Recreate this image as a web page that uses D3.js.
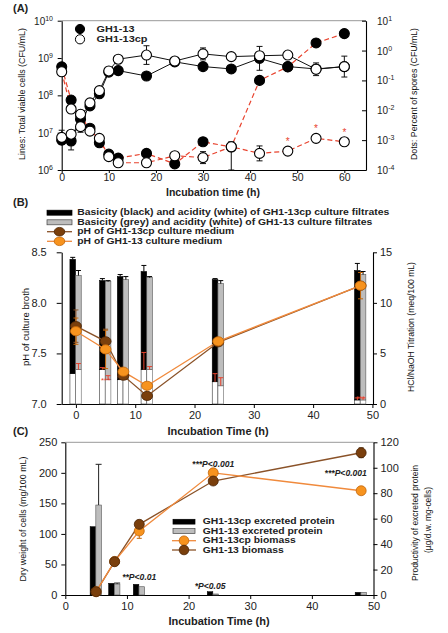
<!DOCTYPE html>
<html><head><meta charset="utf-8">
<script src="https://cdnjs.cloudflare.com/ajax/libs/d3/7.8.5/d3.min.js"></script>
<style>body{margin:0;background:#fff}svg{font-family:"Liberation Sans",Arial,sans-serif}</style>
</head><body><svg id="c" width="448" height="633"></svg>
<script>
// ---------- Panel A data ----------
const timesA = [0,2,4,6,8,10,12,18,24,30,36,42,48,54,60];
const viableGH113   = [6.3e6,6.0e6,3.0e7,5.2e7,1.1e8,4.2e8,4.6e8,3.3e8,7.9e8,5.9e8,5.1e8,9.8e8,5.9e8,5.1e8,5.9e8];
const viableGH113cp = [7.5e6,9.1e6,1.45e7,6.3e7,1.34e8,4.5e8,9.3e8,1.2e9,8.3e8,1.29e9,1.09e9,1.15e9,1.2e9,5.0e8,5.9e8];
const viableErr     = [0,0.24,0,0,0,0,0,0,0,0,0,0.32,0,0,0];        // decades
const viableErrCp   = [0.19,0,0.15,0,0.06,0.1,0,0.25,0,0.16,0.08,0.1,0.09,0.17,0.28];
const sporesGH113   = [0.285,0.022,0.005,0.0025,8.2e-4,3.4e-4,2.5e-4,3.6e-4,1.6e-4,8.8e-4,5.9e-4,0.10,0.285,1.8,3.7];
const sporesGH113cp = [0.195,0.011,0.0074,0.002,1.15e-3,2.8e-4,1.75e-4,1.75e-4,3.0e-4,2.6e-4,6.0e-4,3.6e-4,4.3e-4,1.15e-3,8.8e-4];
const sporesErrCp   = [0,0,0,0,0,0,0,0,0,0.2,0.17,0.25,0,0,0];
const sporeStars    = [48,54,60];
const ticksA_L = [6,7,8,9,10];
const ticksA_R = [-4,-3,-2,-1,0,1];
const ticksA_X = [0,10,20,30,40,50,60];

// ---------- Panel B data ----------
const timesB = [0,5,8,12,24,48];
const acidGH113cp  = [3.0,3.4,2.4,3.4,2.2,0.4];
const basicGH113cp = [11.3,8.8,10.2,9.7,10.1,12.8];
const acidGH113    = [3.4,2.4,2.4,3.4,1.8,0.4];
const basicGH113   = [9.3,9.7,9.9,9.1,10.1,12.4];
const basicErrCp   = [0.2,0.2,0.2,0.6,0.1,0.7];
const basicErr     = [0.5,0.1,0.3,0.1,0.3,0.3];
const acidErrCp    = [0,0.2,0.3,1.7,0.8,0.2];
const acidErr      = [0.6,0.4,0.3,0.3,0.8,0.2];
const phGH113cp = [7.77,7.62,7.28,7.08,7.61,8.17];
const phGH113   = [7.72,7.54,7.32,7.18,7.62,8.17];
const phErrCp   = [0.16,0.12,0.03,0.03,0.02,0.03];
const phErr     = [0.13,0.19,0.03,0.03,0.02,0.13];
const ticksB_L = [7.0,7.5,8.0,8.5];
const ticksB_R = [0,5,10,15];
const ticksB_X = [0,10,20,30,40,50];

// ---------- Panel C data ----------
const timesC = [5,8,12,24,48];
const proteinGH113cp = [53.7,9.2,8.4,2.6,2.1];
const proteinGH113   = [70.7,8.6,6.5,0.8,2.1];
const proteinErr     = [32,0.8,0,0,0];
const biomassGH113cp = [5.4,55,104.8,200,170.7];
const biomassGH113   = [5.4,54.5,115.7,186.6,232.9];
const biomassErrCp   = [0,4,12,3,3];
const biomassErr     = [0,3,3,3,8];
const ticksC_L = [0,50,100,150,200,250];
const ticksC_R = [0,20,40,60,80,100,120];
const ticksC_X = [0,10,20,30,40,50];
const pLabels = [
  {t:24, v:214, text:"***P<0.001"},
  {t:45.5, v:200, text:"***P<0.001"},
  {t:12, v:30, text:"**P<0.01"},
  {t:23.5, v:15, text:"*P<0.05"}
];

// ---------- helpers ----------
const svg = d3.select("#c");
const ORANGE="#f7931e", ORANGE_S="#c0650a", ORANGE_L="#f08a3c";
const BROWN="#7a3f0c", BROWN_S="#4a2506", BROWN_L="#8a5228";
const RED="#e8432e";

function styleAxis(g, fs){
  g.selectAll("path.domain").attr("stroke","#000").attr("stroke-width",1.1);
  g.selectAll(".tick line").attr("stroke","#000").attr("stroke-width",1);
  g.selectAll(".tick text").attr("font-size",fs||10.5).attr("fill","#222")
    .attr("font-family",'"Liberation Sans",Arial,sans-serif');
}
function vtitle(x,y,text,fs,len,bold){
  const t = svg.append("text").attr("transform",`translate(${x},${y}) rotate(-90)`)
    .attr("text-anchor","middle").attr("dominant-baseline","central")
    .attr("font-size",fs).attr("fill","#111").text(text);
  if(bold) t.attr("font-weight","bold");
  if(len) t.attr("textLength",len).attr("lengthAdjust","spacingAndGlyphs");
}
function htitle(x,y,text,fs){
  svg.append("text").attr("x",x).attr("y",y).attr("text-anchor","middle")
    .attr("dominant-baseline","central").attr("font-size",fs).attr("font-weight","bold")
    .attr("fill","#222").text(text);
}
function legText(g,x,y,text,len,fs){
  g.append("text").attr("x",x).attr("y",y).attr("dominant-baseline","central").attr("font-size",fs||8.2)
    .attr("font-weight","bold").attr("fill","#222").attr("textLength",len).attr("lengthAdjust","spacingAndGlyphs").text(text);
}
function errbar(g,x,y1,y2,color,cap,bothCaps){
  g.append("line").attr("x1",x).attr("x2",x).attr("y1",y1).attr("y2",y2).attr("stroke",color).attr("stroke-width",1);
  g.append("line").attr("x1",x-cap).attr("x2",x+cap).attr("y1",y2).attr("y2",y2).attr("stroke",color).attr("stroke-width",1);
  if(bothCaps) g.append("line").attr("x1",x-cap).attr("x2",x+cap).attr("y1",y1).attr("y2",y1).attr("stroke",color).attr("stroke-width",1);
}

// ================= Panel A =================
const xA = d3.scaleLinear().domain([0,64.6]).range([61.7,366]);
const yAL = d3.scaleLog().domain([1e6,1e10]).range([170,20.7]);
const yAR = d3.scaleLog().domain([1e-4,10]).range([170,20.7]);
const gA = svg.append("g");

gA.append("line").attr("x1",61.7).attr("x2",366).attr("y1",20.7).attr("y2",20.7).attr("stroke","#999").attr("stroke-width",1);
const axAx = gA.append("g").attr("transform","translate(0,170)")
  .call(d3.axisBottom(xA).tickValues(ticksA_X).tickSize(3).tickSizeOuter(0).tickPadding(1));
styleAxis(axAx,10.5);
const axAl = gA.append("g").attr("transform","translate(61.7,0)")
  .call(d3.axisLeft(yAL).tickValues(ticksA_L.map(e=>Math.pow(10,e))).tickFormat("").tickSize(4).tickSizeOuter(0));
styleAxis(axAl);
const axAr = gA.append("g").attr("transform","translate(366,0)")
  .call(d3.axisRight(yAR).tickValues(ticksA_R.map(e=>Math.pow(10,e))).tickFormat("").tickSize(-4).tickSizeOuter(0));
styleAxis(axAr);
ticksA_L.forEach(e=>{
  const t = gA.append("text").attr("x",53).attr("y",yAL(Math.pow(10,e))+4).attr("text-anchor","end")
    .attr("font-size",10).attr("fill","#222");
  t.append("tspan").text("10");
  t.append("tspan").attr("dy",-4).attr("font-size",7).text(e);
});
ticksA_R.forEach(e=>{
  const t = gA.append("text").attr("x",377).attr("y",yAR(Math.pow(10,e))+4).attr("text-anchor","start")
    .attr("font-size",10).attr("fill","#222");
  t.append("tspan").text("10");
  t.append("tspan").attr("dy",-4).attr("font-size",7).text(e);
});

const lineSp = (arr)=>d3.line().x((d,i)=>xA(timesA[i])).y(d=>yAR(d))(arr);
const lineVi = (arr)=>d3.line().x((d,i)=>xA(timesA[i])).y(d=>yAL(d))(arr);
gA.append("path").attr("d",lineSp(sporesGH113)).attr("fill","none").attr("stroke",RED).attr("stroke-width",1.2).attr("stroke-dasharray","5,3");
gA.append("path").attr("d",lineSp(sporesGH113cp)).attr("fill","none").attr("stroke",RED).attr("stroke-width",1.2).attr("stroke-dasharray","5,3");
gA.append("path").attr("d",lineVi(viableGH113)).attr("fill","none").attr("stroke","#111").attr("stroke-width",1);
gA.append("path").attr("d",lineVi(viableGH113cp)).attr("fill","none").attr("stroke","#111").attr("stroke-width",1);

timesA.forEach((t,i)=>{
  const x=xA(t);
  if(viableErrCp[i]>0){ const v=viableGH113cp[i], f=Math.pow(10,viableErrCp[i]);
    errbar(gA,x,yAL(v/f),yAL(v*f),"#111",3,true); }
  if(viableErr[i]>0){ const v=viableGH113[i], f=Math.pow(10,viableErr[i]);
    errbar(gA,x,yAL(v/f),yAL(v*f),"#111",3,true); }
  if(sporesErrCp[i]>0){ const v=sporesGH113cp[i], f=Math.pow(10,sporesErrCp[i]);
    errbar(gA,x,t===36?170:yAR(v/f),yAR(v*f),"#111",3,true); }
});

function dots(g,arr,sc,filled){
  g.selectAll(null).data(arr).enter().append("circle")
    .attr("cx",(d,i)=>xA(timesA[i])).attr("cy",d=>sc(d)).attr("r",5)
    .attr("fill",filled?"#000":"#fff").attr("stroke","#000").attr("stroke-width",1.1);
}
dots(gA,sporesGH113,yAR,true);
dots(gA,viableGH113,yAL,true);
dots(gA,sporesGH113cp,yAR,false);
dots(gA,viableGH113cp,yAL,false);
sporeStars.forEach(t=>{
  const i=timesA.indexOf(t);
  gA.append("text").attr("x",xA(t)).attr("y",yAR(sporesGH113cp[i])-6).attr("text-anchor","middle")
    .attr("font-size",10).attr("fill",RED).text("*");
});
[["GH1-13",true,38],["GH1-13cp",false,51]].forEach((d,i)=>{
  const y=29+i*10.3;
  gA.append("circle").attr("cx",80).attr("cy",y).attr("r",4.6).attr("fill",d[1]?"#000":"#fff").attr("stroke","#000");
  legText(gA,96.5,y,d[0],d[2],9);
});
svg.append("text").attr("x",13).attr("y",12).attr("font-size",11).attr("font-weight","bold").attr("fill","#222").text("(A)");
htitle(213,191.5,"Incubation time (h)",10.5);
vtitle(21,94,"Lines: Total viable cells (CFU/mL)",9.5,132);
vtitle(413,94,"Dots: Percent of spores (CFU/mL)",9.5,132);

// ================= Panel B =================
const xB = d3.scaleLinear().domain([-2.4,50.1]).range([61.7,373]);
const yBL = d3.scaleLinear().domain([7,8.5]).range([404,252.3]);
const yBR = d3.scaleLinear().domain([0,15]).range([404,252.3]);
const gB = svg.append("g");
const axBx = gB.append("g").attr("transform","translate(0,404)")
  .call(d3.axisBottom(xB).tickValues(ticksB_X).tickSize(4).tickSizeOuter(0).tickPadding(3));
styleAxis(axBx,11);
const axBl = gB.append("g").attr("transform","translate(61.7,0)")
  .call(d3.axisLeft(yBL).tickValues(ticksB_L).tickFormat(d3.format(".1f")).tickSize(5).tickSizeOuter(0).tickPadding(10));
styleAxis(axBl,11);
const axBr = gB.append("g").attr("transform","translate(373,0)")
  .call(d3.axisRight(yBR).tickValues(ticksB_R).tickSize(4).tickSizeOuter(0).tickPadding(3));
styleAxis(axBr,11);

timesB.forEach((t,i)=>{
  const x=xB(t), w=5.6;
  const xa=x-6, xg=x-0.3;
  gB.append("rect").attr("x",xa).attr("width",w).attr("y",yBR(acidGH113cp[i])).attr("height",yBR(0)-yBR(acidGH113cp[i]))
    .attr("fill","#fff").attr("stroke","#333").attr("stroke-width",0.6);
  gB.append("rect").attr("x",xa).attr("width",w).attr("y",yBR(acidGH113cp[i]+basicGH113cp[i])).attr("height",yBR(acidGH113cp[i])-yBR(acidGH113cp[i]+basicGH113cp[i]))
    .attr("fill","#000").attr("stroke","#000").attr("stroke-width",0.6);
  gB.append("rect").attr("x",xg).attr("width",w).attr("y",yBR(acidGH113[i])).attr("height",yBR(0)-yBR(acidGH113[i]))
    .attr("fill","#fff").attr("stroke","#666").attr("stroke-width",0.6);
  gB.append("rect").attr("x",xg).attr("width",w).attr("y",yBR(acidGH113[i]+basicGH113[i])).attr("height",yBR(acidGH113[i])-yBR(acidGH113[i]+basicGH113[i]))
    .attr("fill","#bdbdbd").attr("stroke","#555").attr("stroke-width",0.6);
  const tc=acidGH113cp[i]+basicGH113cp[i], tg=acidGH113[i]+basicGH113[i];
  errbar(gB,xa+w/2,yBR(tc),yBR(tc+basicErrCp[i]),"#000",2.5,false);
  errbar(gB,xg+w/2,yBR(tg),yBR(tg+basicErr[i]),"#000",2.5,false);
  if(acidErrCp[i]>0) errbar(gB,xa+w/2,yBR(acidGH113cp[i]),yBR(acidGH113cp[i]+acidErrCp[i]),RED,2.5,false);
  if(acidErr[i]>0) errbar(gB,xg+w/2,yBR(acidGH113[i]),yBR(acidGH113[i]+acidErr[i]),RED,2.5,false);
});
[[5,2.5,"***"],[48,0.65,"***"]].forEach(d=>{
  gB.append("text").attr("x",xB(d[0])).attr("y",yBR(d[1])+4).attr("text-anchor","middle")
    .attr("font-size",8).attr("fill",RED).text(d[2]);
});

const lineB = (arr)=>d3.line().x((d,i)=>xB(timesB[i])).y(d=>yBL(d))(arr);
gB.append("path").attr("d",lineB(phGH113cp)).attr("fill","none").attr("stroke",BROWN_L).attr("stroke-width",1.3);
gB.append("path").attr("d",lineB(phGH113)).attr("fill","none").attr("stroke",ORANGE_L).attr("stroke-width",1.3);
timesB.forEach((t,i)=>{
  errbar(gB,xB(t),yBL(phGH113cp[i]-phErrCp[i]),yBL(phGH113cp[i]+phErrCp[i]),BROWN_L,2.5,true);
  errbar(gB,xB(t),yBL(phGH113[i]-phErr[i]),yBL(phGH113[i]+phErr[i]),ORANGE_S,2.5,true);
});
gB.selectAll(null).data(phGH113cp).enter().append("ellipse")
  .attr("cx",(d,i)=>xB(timesB[i])).attr("cy",d=>yBL(d)).attr("rx",5.5).attr("ry",4.6)
  .attr("fill",BROWN).attr("stroke",BROWN_S).attr("stroke-width",0.8);
gB.selectAll(null).data(phGH113).enter().append("ellipse")
  .attr("cx",(d,i)=>xB(timesB[i])).attr("cy",d=>yBL(d)).attr("rx",5.5).attr("ry",4.6)
  .attr("fill",ORANGE).attr("stroke",ORANGE_S).attr("stroke-width",0.8);

const legB = [
  {type:"bar",fill:"#000",stroke:"#000",len:312,text:"Basicity (black) and acidity (white) of GH1-13cp culture filtrates"},
  {type:"bar",fill:"#bdbdbd",stroke:"#444",len:295,text:"Basicity (grey) and acidity (white) of GH1-13 culture filtrates"},
  {type:"pt",fill:BROWN,stroke:BROWN_S,line:BROWN_L,len:157,text:"pH of GH1-13cp culture medium"},
  {type:"pt",fill:ORANGE,stroke:ORANGE_S,line:ORANGE_L,len:145,text:"pH of GH1-13 culture medium"}
];
legB.forEach((d,i)=>{
  const y=[212.7,222.3,231.7,241.3][i];
  if(d.type==="bar"){
    gB.append("rect").attr("x",47).attr("y",y-2.5).attr("width",25).attr("height",5).attr("fill",d.fill).attr("stroke",d.stroke).attr("stroke-width",0.7);
  } else {
    gB.append("line").attr("x1",47).attr("x2",72).attr("y1",y).attr("y2",y).attr("stroke",d.line).attr("stroke-width",1.3);
    gB.append("ellipse").attr("cx",59.5).attr("cy",y).attr("rx",5.3).attr("ry",4.3).attr("fill",d.fill).attr("stroke",d.stroke).attr("stroke-width",0.8);
  }
  legText(gB,77.3,y,d.text,d.len);
});
svg.append("text").attr("x",13).attr("y",206).attr("font-size",11).attr("font-weight","bold").attr("fill","#222").text("(B)");
htitle(218,431,"Incubation Time (h)",11);
vtitle(25,327,"pH of culture broth",9.5,null);
vtitle(410,327,"HCl/NaOH Titration (meq/100 mL)",9.5,130);

// ================= Panel C =================
const xC = d3.scaleLinear().domain([0,50]).range([65.3,373.5]);
const yCL = d3.scaleLinear().domain([0,250]).range([595,442.3]);
const yCR = d3.scaleLinear().domain([0,120]).range([595,442.3]);
const gC = svg.append("g");
gC.append("line").attr("x1",65.3).attr("x2",373.5).attr("y1",442.3).attr("y2",442.3).attr("stroke","#999").attr("stroke-width",1);
const axCx = gC.append("g").attr("transform","translate(0,595)")
  .call(d3.axisBottom(xC).tickValues(ticksC_X).tickSize(4).tickSizeOuter(0).tickPadding(3));
styleAxis(axCx,11);
const axCl = gC.append("g").attr("transform","translate(65.3,0)")
  .call(d3.axisLeft(yCL).tickValues(ticksC_L).tickSize(4).tickSizeOuter(0).tickPadding(4));
styleAxis(axCl,11);
const axCr = gC.append("g").attr("transform","translate(373.5,0)")
  .call(d3.axisRight(yCR).tickValues(ticksC_R).tickSize(4).tickSizeOuter(0).tickPadding(3));
styleAxis(axCr,11);

timesC.forEach((t,i)=>{
  const x=xC(t), w=5.6;
  gC.append("rect").attr("x",x-6).attr("width",w).attr("y",yCR(proteinGH113cp[i])).attr("height",yCR(0)-yCR(proteinGH113cp[i]))
    .attr("fill","#000").attr("stroke","#000").attr("stroke-width",0.5);
  gC.append("rect").attr("x",x-0.3).attr("width",w).attr("y",yCR(proteinGH113[i])).attr("height",yCR(0)-yCR(proteinGH113[i]))
    .attr("fill","#bdbdbd").attr("stroke","#555").attr("stroke-width",0.6);
  if(proteinErr[i]>0) errbar(gC,x-0.3+w/2,yCR(proteinGH113[i]),yCR(proteinGH113[i]+proteinErr[i]),"#222",3,false);
});
const lineC = (arr)=>d3.line().x((d,i)=>xC(timesC[i])).y(d=>yCL(d))(arr);
gC.append("path").attr("d",lineC(biomassGH113)).attr("fill","none").attr("stroke",BROWN_L).attr("stroke-width",1.3);
gC.append("path").attr("d",lineC(biomassGH113cp)).attr("fill","none").attr("stroke",ORANGE_L).attr("stroke-width",1.3);
timesC.forEach((t,i)=>{
  if(biomassErr[i]>0) errbar(gC,xC(t),yCL(biomassGH113[i]-biomassErr[i]),yCL(biomassGH113[i]+biomassErr[i]),BROWN_S,2.5,true);
  if(biomassErrCp[i]>0) errbar(gC,xC(t),yCL(biomassGH113cp[i]-biomassErrCp[i]),yCL(biomassGH113cp[i]+biomassErrCp[i]),ORANGE_S,2.5,true);
});
gC.selectAll(null).data(biomassGH113cp).enter().append("circle")
  .attr("cx",(d,i)=>xC(timesC[i])).attr("cy",d=>yCL(d)).attr("r",5)
  .attr("fill",ORANGE).attr("stroke",ORANGE_S).attr("stroke-width",0.8);
gC.selectAll(null).data(biomassGH113).enter().append("circle")
  .attr("cx",(d,i)=>xC(timesC[i])).attr("cy",d=>yCL(d)).attr("r",5)
  .attr("fill",BROWN).attr("stroke",BROWN_S).attr("stroke-width",0.8);
pLabels.forEach(p=>{
  gC.append("text").attr("x",xC(p.t)).attr("y",yCL(p.v)).attr("text-anchor","middle").attr("dominant-baseline","central")
    .attr("font-size",8.6).attr("font-weight","bold").attr("font-style","italic").attr("fill","#222").text(p.text);
});
const legC = [
  {type:"bar",fill:"#000",stroke:"#000",len:132,text:"GH1-13cp excreted protein"},
  {type:"bar",fill:"#bdbdbd",stroke:"#444",len:120,text:"GH1-13 excreted protein"},
  {type:"pt",fill:ORANGE,stroke:ORANGE_S,line:ORANGE_L,len:93,text:"GH1-13cp biomass"},
  {type:"pt",fill:BROWN,stroke:BROWN_S,line:BROWN_L,len:81,text:"GH1-13 biomass"}
];
legC.forEach((d,i)=>{
  const y=[521.7,531,540.7,550][i];
  if(d.type==="bar"){
    gC.append("rect").attr("x",173).attr("y",y-2.4).attr("width",22).attr("height",4.8).attr("fill",d.fill).attr("stroke",d.stroke).attr("stroke-width",0.7);
  } else {
    gC.append("line").attr("x1",172).attr("x2",196).attr("y1",y).attr("y2",y).attr("stroke",d.line).attr("stroke-width",1.3);
    gC.append("circle").attr("cx",184).attr("cy",y).attr("r",4.8).attr("fill",d.fill).attr("stroke",d.stroke).attr("stroke-width",0.8);
  }
  legText(gC,202.7,y,d.text,d.len);
});
svg.append("text").attr("x",13).attr("y",435).attr("font-size",11).attr("font-weight","bold").attr("fill","#222").text("(C)");
htitle(219,621,"Incubation Time (h)",11);
vtitle(22,519,"Dry weight of cells (mg/100 mL)",9.5,125);
vtitle(414,523,"Productivity of excreted protein",9.5,116);
vtitle(427,520,"(\u00b5g/d.w. mg-cells)",9.5,66);
</script></body></html>
